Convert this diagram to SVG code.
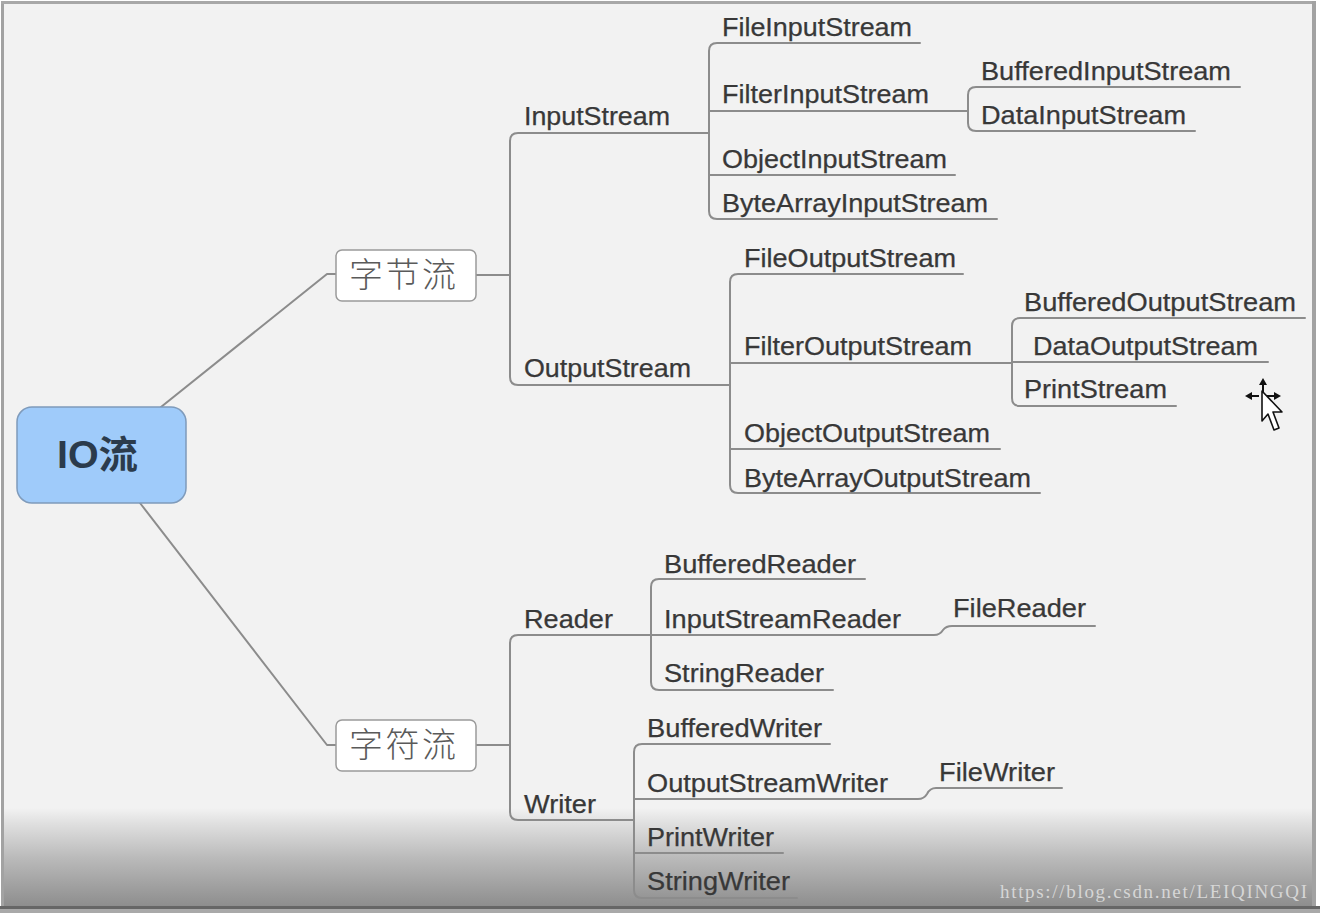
<svg xmlns="http://www.w3.org/2000/svg" width="1320" height="913" viewBox="0 0 1320 913">
<defs>
<linearGradient id="shade" x1="0" y1="0" x2="0" y2="1">
<stop offset="0" stop-color="#f2f2f2"/>
<stop offset="0.15" stop-color="#e0e0e0"/>
<stop offset="0.5" stop-color="#bababa"/>
<stop offset="1" stop-color="#8c8c8c"/>
</linearGradient>
<style>
.t{font-family:"Liberation Sans",Arial,sans-serif;font-size:25px;fill:#383838;stroke:#383838;stroke-width:0.25}
.cn{font-family:"Noto Sans CJK SC","Noto Sans CJK JP",sans-serif;font-size:34px;fill:#5a5a5a;font-weight:300}
.c{fill:none;stroke:#8c8c8c;stroke-width:2;stroke-linejoin:round;stroke-linecap:round}
.box{fill:#ffffff;stroke:#9a9a9a;stroke-width:1.5}
</style>
</defs>
<rect x="0" y="0" width="1320" height="913" fill="#ffffff"/>
<rect x="2" y="2" width="1312" height="908" fill="#f2f2f2"/>
<rect x="2" y="808" width="1312" height="100" fill="url(#shade)"/>
<rect x="1" y="1" width="3" height="910" fill="#a2a2a2"/>
<rect x="1" y="1" width="1315" height="3" fill="#a8a8a8"/>
<rect x="1312" y="1" width="4" height="910" fill="#a2a2a2"/>
<rect x="0" y="906" width="1320" height="3" fill="#666666"/>
<rect x="0" y="909" width="1320" height="4" fill="#a9a9a9"/>

<g id="connectors" class="c">
<path d="M161,407 L327,274 L336,274"/>
<path d="M140,503 L327,745 L336,745"/>
<path d="M476,275 L510,275"/>
<path d="M709,133 L518,133 Q510,133 510,141 L510,377 Q510,385 518,385 L730,385"/>
<path d="M920,43 L717,43 Q709,43 709,51 L709,211 Q709,219 717,219 L997,219"/>
<path d="M709,111 L968,111"/>
<path d="M709,175 L955,175"/>
<path d="M1240,87 L976,87 Q968,87 968,95 L968,123 Q968,131 976,131 L1195,131"/>
<path d="M963,274 L738,274 Q730,274 730,282 L730,485 Q730,493 738,493 L1040,493"/>
<path d="M730,363 L1012,363"/>
<path d="M730,449 L1000,449"/>
<path d="M1305,318 L1020,318 Q1012,318 1012,326 L1012,398 Q1012,406 1020,406 L1176,406"/>
<path d="M1012,362 L1268,362"/>
<path d="M476,745 L510,745"/>
<path d="M651,635 L518,635 Q510,635 510,643 L510,812 Q510,820 518,820 L634,820"/>
<path d="M865,579 L659,579 Q651,579 651,587 L651,682 Q651,690 659,690 L833,690"/>
<path d="M651,635 L934,635 Q940,635 943,630 Q946,626 952,626 L1095,626"/>
<path d="M830,744 L642,744 Q634,744 634,752 L634,890 Q634,898 642,898 L797,898"/>
<path d="M634,799 L918,799 Q924,799 927,794 Q930,788 936,788 L1062,788"/>
<path d="M634,853 L783,853"/>
</g>

<g id="root">
<rect x="17" y="407" width="169" height="96" rx="15" fill="#9fcbfa" stroke="#7f9bbb" stroke-width="1.5"/>
<text x="57" y="468" font-family="Liberation Sans,Noto Sans CJK SC,sans-serif" font-size="38" font-weight="bold" fill="#2b3b4c" textLength="81" lengthAdjust="spacingAndGlyphs">IO流</text>
</g>
<g id="byte">
<rect class="box" x="336" y="250" width="140" height="51" rx="6"/>
<text class="cn" x="349" y="287" textLength="107">字节流</text>
</g>
<g id="char">
<rect class="box" x="336" y="720" width="140" height="51" rx="6"/>
<text class="cn" x="349" y="757" textLength="107">字符流</text>
</g>

<g id="InputStream"><text class="t" x="524" y="125" textLength="146" lengthAdjust="spacingAndGlyphs">InputStream</text></g>
<g id="FileInputStream"><text class="t" x="722" y="36" textLength="190" lengthAdjust="spacingAndGlyphs">FileInputStream</text></g>
<g id="FilterInputStream"><text class="t" x="722" y="103" textLength="207" lengthAdjust="spacingAndGlyphs">FilterInputStream</text></g>
<g id="BufferedInputStream"><text class="t" x="981" y="80" textLength="250" lengthAdjust="spacingAndGlyphs">BufferedInputStream</text></g>
<g id="DataInputStream"><text class="t" x="981" y="124" textLength="205" lengthAdjust="spacingAndGlyphs">DataInputStream</text></g>
<g id="ObjectInputStream"><text class="t" x="722" y="168" textLength="225" lengthAdjust="spacingAndGlyphs">ObjectInputStream</text></g>
<g id="ByteArrayInputStream"><text class="t" x="722" y="212" textLength="266" lengthAdjust="spacingAndGlyphs">ByteArrayInputStream</text></g>

<g id="OutputStream"><text class="t" x="524" y="377" textLength="167" lengthAdjust="spacingAndGlyphs">OutputStream</text></g>
<g id="FileOutputStream"><text class="t" x="744" y="267" textLength="212" lengthAdjust="spacingAndGlyphs">FileOutputStream</text></g>
<g id="FilterOutputStream"><text class="t" x="744" y="355" textLength="228" lengthAdjust="spacingAndGlyphs">FilterOutputStream</text></g>
<g id="BufferedOutputStream"><text class="t" x="1024" y="311" textLength="272" lengthAdjust="spacingAndGlyphs">BufferedOutputStream</text></g>
<g id="DataOutputStream"><text class="t" x="1033" y="355" textLength="225" lengthAdjust="spacingAndGlyphs">DataOutputStream</text></g>
<g id="PrintStream"><text class="t" x="1024" y="398" textLength="143" lengthAdjust="spacingAndGlyphs">PrintStream</text></g>
<g id="ObjectOutputStream"><text class="t" x="744" y="442" textLength="246" lengthAdjust="spacingAndGlyphs">ObjectOutputStream</text></g>
<g id="ByteArrayOutputStream"><text class="t" x="744" y="487" textLength="287" lengthAdjust="spacingAndGlyphs">ByteArrayOutputStream</text></g>

<g id="Reader"><text class="t" x="524" y="628" textLength="89" lengthAdjust="spacingAndGlyphs">Reader</text></g>
<g id="BufferedReader"><text class="t" x="664" y="573" textLength="192" lengthAdjust="spacingAndGlyphs">BufferedReader</text></g>
<g id="InputStreamReader"><text class="t" x="664" y="628" textLength="237" lengthAdjust="spacingAndGlyphs">InputStreamReader</text></g>
<g id="FileReader"><text class="t" x="953" y="617" textLength="133" lengthAdjust="spacingAndGlyphs">FileReader</text></g>
<g id="StringReader"><text class="t" x="664" y="682" textLength="160" lengthAdjust="spacingAndGlyphs">StringReader</text></g>

<g id="Writer"><text class="t" x="524" y="813" textLength="72" lengthAdjust="spacingAndGlyphs">Writer</text></g>
<g id="BufferedWriter"><text class="t" x="647" y="737" textLength="175" lengthAdjust="spacingAndGlyphs">BufferedWriter</text></g>
<g id="OutputStreamWriter"><text class="t" x="647" y="792" textLength="241" lengthAdjust="spacingAndGlyphs">OutputStreamWriter</text></g>
<g id="FileWriter"><text class="t" x="939" y="781" textLength="116" lengthAdjust="spacingAndGlyphs">FileWriter</text></g>
<g id="PrintWriter"><text class="t" x="647" y="846" textLength="127" lengthAdjust="spacingAndGlyphs">PrintWriter</text></g>
<g id="StringWriter"><text class="t" x="647" y="890" textLength="143" lengthAdjust="spacingAndGlyphs">StringWriter</text></g>

<g id="cursor">
<path d="M1263,378 L1259,385 L1267,385 Z M1245,396 L1252,392 L1252,400 Z M1281,396 L1274,392 L1274,400 Z" fill="#111"/>
<path d="M1263,384 L1263,392 M1251,396 L1259,396 M1267,396 L1275,396" stroke="#111" stroke-width="2"/>
<path d="M1262,391 L1262,421 L1268,414 L1274,430 L1279,428 L1273,412 L1282,412 Z" fill="#ffffff" stroke="#111" stroke-width="1.6" stroke-linejoin="round"/>
</g>

<text x="1000" y="898" font-family="Liberation Serif,serif" font-size="19" fill="#d6d6d6" textLength="307" lengthAdjust="spacing">https://blog.csdn.net/LEIQINGQI</text>
</svg>
